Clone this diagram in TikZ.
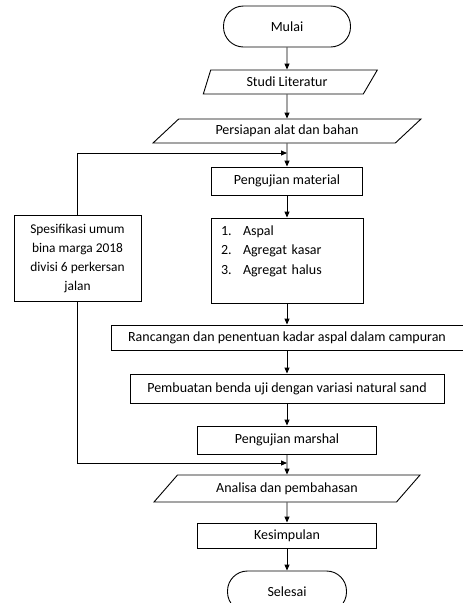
\documentclass[tikz,border=0pt]{standalone}
\usepackage{fontspec}
\setmainfont{Carlito}
\usetikzlibrary{arrows.meta,shapes.geometric}

\begin{document}
\begin{tikzpicture}[x=1pt,y=-1pt,
    every node/.style={font=\fontsize{14}{19.3}\selectfont, line width=0.9pt},
    kotak/.style={draw, rectangle, inner sep=0pt},
    terminal/.style={draw, rectangle, rounded corners=20pt, inner sep=0pt},
    io/.style={draw, trapezium, trapezium stretches body, inner sep=0pt},
    panah/.style={-{Triangle[length=6pt,width=5pt]}, line width=0.9pt}]
  \useasboundingbox (0,0) rectangle (463,603);
  \clip (0,0) rectangle (463,603);

  \node[terminal, minimum width=127pt, minimum height=41pt] (mulai) at (287,26.5) {Mulai};
  \node[io, trapezium left angle=53, trapezium right angle=145, minimum width=174pt, minimum height=24pt] (studi) at (287,82) {Studi Literatur};
  \node[io, trapezium left angle=25, trapezium right angle=155, minimum width=268pt, minimum height=24pt] (persiapan) at (287,131) {Persiapan alat dan bahan};
  \node[kotak, minimum width=151pt, minimum height=28pt] (material) at (287,181) {Pengujian material};
  \node[kotak, minimum width=152pt, minimum height=85pt, text width=132pt, inner xsep=10pt, align=left] (bahan) at (287,260.5)
    {\begin{tabular}{@{}l@{\hspace{11.4pt}}l@{}}1. & Aspal\\ 2. & Agregat kasar\\ 3. & Agregat halus\\ & \end{tabular}};
  \node[kotak, minimum width=352pt, minimum height=25pt] (rancangan) at (287,337.5) {Rancangan dan penentuan kadar aspal dalam campuran};
  \node[kotak, minimum width=314pt, minimum height=29pt] (pembuatan) at (287,388.5) {Pembuatan benda uji dengan variasi natural sand};
  \node[kotak, minimum width=179pt, minimum height=28pt] (marshal) at (287,440) {Pengujian marshal};
  \node[io, trapezium left angle=27, trapezium right angle=153, minimum width=266pt, minimum height=27pt] (analisa) at (287,488.5) {Analisa dan pembahasan};
  \node[kotak, minimum width=179pt, minimum height=25pt] (kesimpulan) at (287,535.5) {Kesimpulan};
  \node[terminal, minimum width=119pt, minimum height=41pt] (selesai) at (287,591.5) {Selesai};

  \node[kotak, minimum width=127pt, minimum height=86pt, align=center, font=\fontsize{13.4}{19}\selectfont] (spek) at (77.5,258)
    {Spesifikasi umum\\ bina marga 2018\\ divisi 6 perkersan\\ jalan};
  \coordinate (j1) at (287,153);
  \coordinate (j2) at (287,463);

  \draw[panah] (mulai) -- (studi);
  \draw[panah] (studi) -- (persiapan);
  \draw[panah] (persiapan) -- (material);
  \draw[panah] (material) -- (bahan);
  \draw[panah] (bahan) -- (rancangan);
  \draw[panah] (rancangan) -- (pembuatan);
  \draw[panah] (pembuatan) -- (marshal);
  \draw[panah] (marshal) -- (analisa);
  \draw[panah] (analisa) -- (kesimpulan);
  \draw[panah] (kesimpulan) -- (selesai);
  \draw[panah] (spek.north) |- (j1);
  \draw[panah] (spek.south) |- (j2);
\end{tikzpicture}
\end{document}
